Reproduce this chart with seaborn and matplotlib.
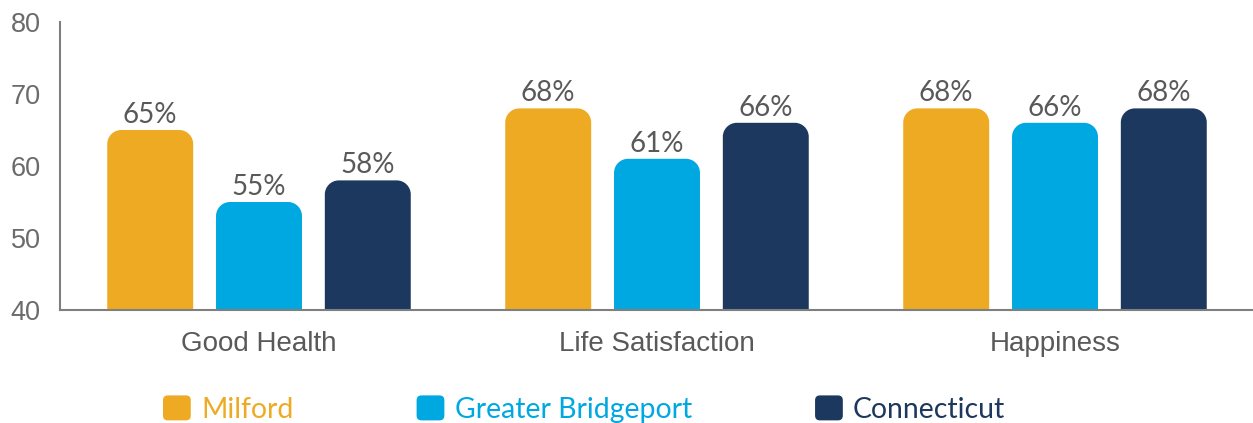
import numpy as np
import pandas as pd
import matplotlib
matplotlib.use("Agg")
import matplotlib.pyplot as plt
import seaborn as sns
from matplotlib.path import Path
from matplotlib.patches import PathPatch, FancyBboxPatch, Patch
from matplotlib.legend_handler import HandlerPatch

categories = ["Good Health", "Life Satisfaction", "Happiness"]
regions = ["Milford", "Greater Bridgeport", "Connecticut"]
milford = [65, 68, 68]
greater_bridgeport = [55, 61, 66]
connecticut = [58, 66, 68]
yticks = [40, 50, 60, 70, 80]
colors = ["#EEAA22", "#00A8E1", "#1D385E"]

df = pd.DataFrame({
    "category": categories * 3,
    "region": [regions[0]] * 3 + [regions[1]] * 3 + [regions[2]] * 3,
    "value": milford + greater_bridgeport + connecticut,
})

sns.set_theme(style="white")
plt.rcParams["font.family"] = ["Liberation Sans", "DejaVu Sans"]

fig = plt.figure(figsize=(12.53, 4.23), dpi=100)
ax = fig.add_axes([60 / 1253, 1 - 310 / 423, 1194 / 1253, 288 / 423])

sns.barplot(data=df, x="category", y="value", hue="region", order=categories,
            hue_order=regions, palette=colors, width=0.82, gap=0.21,
            saturation=1, legend=False, ax=ax, errorbar=None)

ax.set_ylim(40, 80)
ax.set_xlim(-0.5, 2.5)
ax.set_yticks(yticks)
ax.set_xlabel("")
ax.set_ylabel("")

# rounded tops
rx = 14 / 398.0
ry = 14 / 7.2
k = 0.5523
for p in list(ax.patches):
    x0 = p.get_x(); w = p.get_width(); h = p.get_height(); y0 = p.get_y()
    fc = p.get_facecolor()
    x1 = x0 + w; y1 = y0 + h
    verts = [(x0, y0), (x0, y1 - ry),
             (x0, y1 - ry + k * ry), (x0 + rx - k * rx, y1), (x0 + rx, y1),
             (x1 - rx, y1),
             (x1 - rx + k * rx, y1), (x1, y1 - ry + k * ry), (x1, y1 - ry),
             (x1, y0), (x0, y0)]
    codes = [Path.MOVETO, Path.LINETO,
             Path.CURVE4, Path.CURVE4, Path.CURVE4,
             Path.LINETO,
             Path.CURVE4, Path.CURVE4, Path.CURVE4,
             Path.LINETO, Path.CLOSEPOLY]
    ax.add_patch(PathPatch(Path(verts, codes), facecolor=fc, edgecolor="none", zorder=2))
    p.set_visible(False)
    ax.annotate(f"{h:.0f}%", (x0 + w / 2, y1), xytext=(0, 5), textcoords="offset points",
                ha="center", va="baseline", fontsize=20, color="#595959",
                family=["Lato", "DejaVu Sans"], zorder=3)

for s in ["top", "right"]:
    ax.spines[s].set_visible(False)
for s in ["left", "bottom"]:
    ax.spines[s].set_color("#7F7F7F")
    ax.spines[s].set_linewidth(1.5)
ax.tick_params(axis="y", length=0, pad=14, labelsize=19.5, labelcolor="#6B6B6B")
ax.tick_params(axis="x", length=0, pad=15, labelsize=20, labelcolor="#595959")
ax.grid(False)


class RoundHandler(HandlerPatch):
    def create_artists(self, legend, orig_handle, xdescent, ydescent, width, height, fontsize, trans):
        p = FancyBboxPatch((-xdescent, -ydescent), width, height,
                           boxstyle="round,pad=0,rounding_size=3.5",
                           facecolor=orig_handle.get_facecolor(), edgecolor="none",
                           transform=trans)
        return [p]


handles = [Patch(facecolor=c, label=r) for c, r in zip(colors, regions)]
leg = fig.legend(handles=handles, loc="center left", bbox_to_anchor=(163 / 1253, 1 - 409 / 423),
                 ncol=3, frameon=False, borderpad=0, borderaxespad=0,
                 handlelength=0.98, handleheight=0.98, handletextpad=0.36, columnspacing=4.35,
                 prop={"family": ["Lato", "DejaVu Sans"], "size": 20.4},
                 handler_map={Patch: RoundHandler()})
for t, c in zip(leg.get_texts(), colors):
    t.set_color(c)

fig.savefig("out.png", dpi=100)
